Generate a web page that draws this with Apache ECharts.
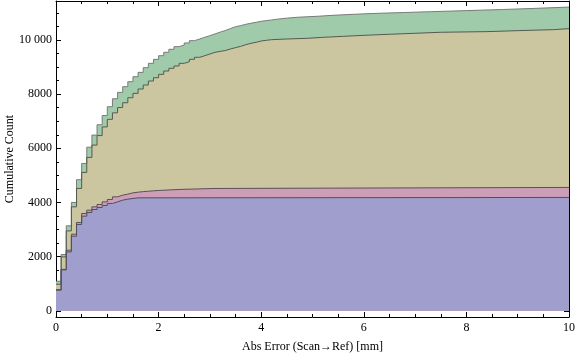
<!DOCTYPE html>
<html>
<head>
<meta charset="utf-8">
<script src="https://cdn.jsdelivr.net/npm/echarts@6/dist/echarts.min.js"></script>
<style>
html,body{margin:0;padding:0;background:#fff}
#main{width:576px;height:357px}
</style>
</head>
<body>
<div id="main"></div>
<script>
// step positions (left edge of each step) and cumulative counts
const blueX = [0,0.1,0.2,0.3,0.4,0.5,0.6,0.7,0.8,0.9,1.0,1.1,1.2,1.3,1.4,1.5,1.6,10]
const blueY = [760,1510,2175,2754,3187,3494,3630,3740,3815,3889,3963,4022,4085,4122,4148,4170,4185,4185]

const pinkX = [0,0.1,0.2,0.3,0.4,0.5,0.6,0.7,0.8,0.9,1.0,1.1,1.2,1.3,1.4,1.5,1.6,1.7,1.8,1.9,2.0,2.4,3.1,10]
const pinkY = [780,1530,2237,2828,3260,3593,3715,3838,3926,4022,4110,4207,4270,4307,4355,4380,4400,4415,4430,4443,4480,4517,4555,4555]

const oliveX = [0,0.1,0.2,0.3,0.4,0.5,0.6,0.7,0.8,0.9,1.0,1.1,1.2,1.3,1.4,1.5,1.6,1.7,1.8,1.9,
  2.0,2.1,2.2,2.3,2.4,2.5,2.6,2.7,2.8,2.9,3.0,3.1,3.2,3.3,3.4,3.5,3.6,3.7,3.8,3.9,
  4.0,4.1,4.2,4.5,4.9,5.2,5.6,6.0,6.5,7.0,7.5,8.4,9.0,9.7,10]
const oliveY = [980,1990,2950,3838,4518,5109,5664,6118,6470,6790,7070,7310,7505,7683,7868,8029,8189,8337,8485,8607,
  8731,8854,8954,9039,9138,9199,9286,9360,9420,9483,9545,9580,9610,9668,9717,9766,9827,9877,9914,9963,
  9988,10012,10037,10062,10098,10135,10172,10211,10248,10285,10309,10345,10382,10419,10419]

const greenX = [0,0.1,0.2,0.3,0.4,0.5,0.6,0.7,0.8,0.9,1.0,1.1,1.2,1.3,1.4,1.5,1.6,1.7,1.8,1.9,
  2.0,2.1,2.2,2.3,2.4,2.5,2.6,2.7,2.8,2.9,3.0,3.1,3.2,3.3,3.4,3.5,3.6,3.7,3.8,3.9,
  4.0,4.2,4.4,4.7,5.1,5.4,5.8,6.3,6.8,7.3,8.0,8.7,9.3,10]
const greenY = [1090,2077,3136,4000,4840,5441,6040,6488,6870,7210,7535,7830,8066,8275,8460,8644,8805,8977,9138,9286,
  9420,9545,9656,9753,9815,9890,9975,10035,10100,10160,10225,10290,10350,10420,10493,10530,10580,10617,10654,10691,
  10740,10789,10839,10876,10912,10949,10987,11015,11045,11085,11125,11165,11215,11215]

const xMajor = [0,2,4,6,8,10]
const xMinor = [0.5,1,1.5,2.5,3,3.5,4.5,5,5.5,6.5,7,7.5,8.5,9,9.5]
const yMajor = [0,2000,4000,6000,8000,10000]
const yMinor = [500,1000,1500,2500,3000,3500,4500,5000,5500,6500,7000,7500,8500,9000,9500,10500,11000]

const font = 'Liberation Serif'
const pts = (xs, ys) => xs.map((x, i) => [x, ys[i]])

let myChart = echarts.init(document.getElementById('main'))

const xBase = {type:'value', min:0, max:10, splitLine:{show:false}}
const yBase = {type:'value', min:-230, max:11440, splitLine:{show:false}}
const line = {show:true, onZero:false, lineStyle:{color:'#000', width:1}}
const noLine = {show:false, onZero:false}
const noLabel = {show:false}

let option = {
  animation:false,
  grid:{left:56, right:7, top:1, bottom:40, outerBoundsMode:'none', containLabel:false},
  xAxis:[
    {...xBase, position:'bottom', axisLine:line,
      axisTick:{inside:true, length:5, customValues:xMajor, lineStyle:{color:'#000'}},
      axisLabel:{customValues:xMajor, margin:5, color:'#000', fontFamily:font, fontSize:12},
      name:'Abs Error (Scan→Ref) [mm]', nameLocation:'middle', nameGap:24, nameMoveOverlap:false,
      nameTextStyle:{color:'#000', fontFamily:font, fontSize:12}},
    {...xBase, position:'bottom', axisLine:noLine,
      axisTick:{inside:true, length:3, customValues:xMinor, lineStyle:{color:'#000'}}, axisLabel:noLabel},
    {...xBase, position:'top', axisLine:line,
      axisTick:{inside:true, length:5, customValues:xMajor, lineStyle:{color:'#000'}}, axisLabel:noLabel},
    {...xBase, position:'top', axisLine:noLine,
      axisTick:{inside:true, length:3, customValues:xMinor, lineStyle:{color:'#000'}}, axisLabel:noLabel}
  ],
  yAxis:[
    {...yBase, position:'left', axisLine:line,
      axisTick:{inside:true, length:5, customValues:yMajor, lineStyle:{color:'#000'}},
      axisLabel:{customValues:yMajor, margin:4, color:'#000', fontFamily:font, fontSize:12,
        formatter:v => v >= 10000 ? String(v).replace(/(\d+)(\d{3})$/, '$1 $2') : String(v)},
      name:'Cumulative Count', nameLocation:'middle', nameGap:40, nameMoveOverlap:false,
      nameTextStyle:{color:'#000', fontFamily:font, fontSize:12}},
    {...yBase, position:'left', axisLine:noLine,
      axisTick:{inside:true, length:3, customValues:yMinor, lineStyle:{color:'#000'}}, axisLabel:noLabel},
    {...yBase, position:'right', axisLine:line,
      axisTick:{inside:true, length:5, customValues:yMajor, lineStyle:{color:'#000'}}, axisLabel:noLabel},
    {...yBase, position:'right', axisLine:noLine,
      axisTick:{inside:true, length:3, customValues:yMinor, lineStyle:{color:'#000'}}, axisLabel:noLabel}
  ],
  series:[
    {type:'line', step:'end', symbol:'none', data:pts(greenX, greenY),
      lineStyle:{color:'#7a7a7a', width:1}, areaStyle:{color:'#9fcbaa', opacity:1}},
    {type:'line', step:'end', symbol:'none', data:pts(oliveX, oliveY),
      lineStyle:{color:'#555a50', width:1}, areaStyle:{color:'#cbc6a0', opacity:1}},
    {type:'line', step:'end', symbol:'none', data:pts(pinkX, pinkY),
      lineStyle:{color:'#5a5058', width:1}, areaStyle:{color:'#cc9eb8', opacity:1}},
    {type:'line', step:'end', symbol:'none', data:pts(blueX, blueY),
      lineStyle:{color:'#50505a', width:1}, areaStyle:{color:'#a09ecc', opacity:1}}
  ]
}
myChart.setOption(option)
window.onresize = function () {
  myChart.resize()
}
</script>
</body>
</html>
